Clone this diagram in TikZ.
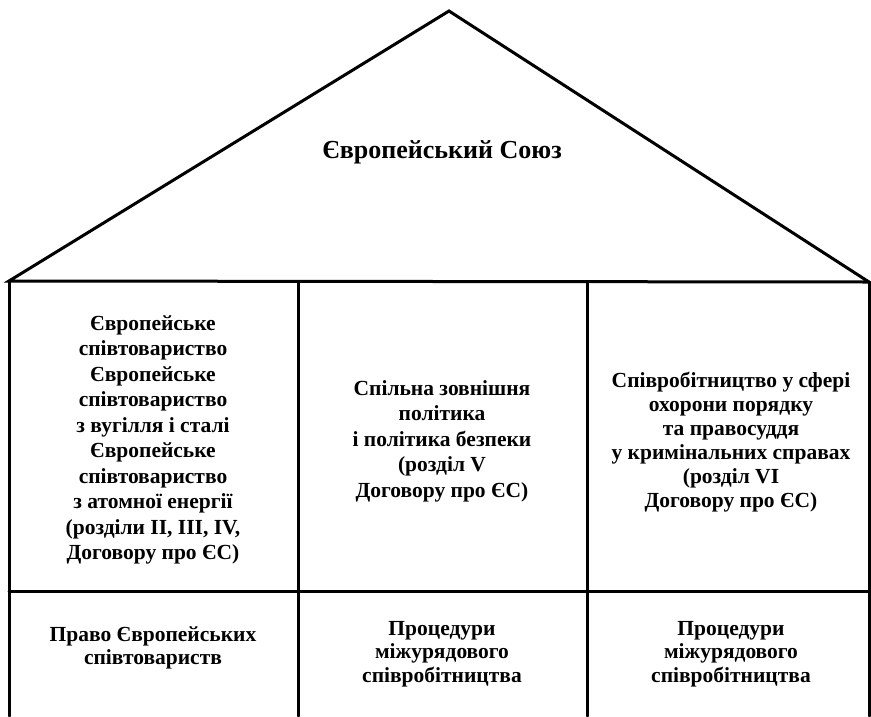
\documentclass[tikz,border=0pt]{standalone}
\usepackage{fontspec}
\setmainfont{Liberation Serif}[BoldFont={Liberation Serif Bold}]
\begin{document}
\begin{tikzpicture}[x=1pt,y=-1pt,
  frame/.style={line width=3pt,line cap=round,line join=miter},
  cell/.style={align=center,font=\bfseries\fontsize{21.5}{25.5}\selectfont,inner sep=0pt},
  title/.style={align=center,font=\bfseries\fontsize{26}{30}\selectfont,inner sep=0pt}]
\useasboundingbox (0,0) rectangle (871,716);
\coordinate (apex) at (449,11);
\coordinate (bl) at (9,281);
\coordinate (br) at (869,282);
\coordinate (m1t) at (298,282);
\coordinate (m2t) at (587,282);
\coordinate (m1b) at (298,716);
\coordinate (m2b) at (587,716);
\coordinate (lb) at (9,716);
\coordinate (rb) at (869,716);
\coordinate (dl) at (9,591);
\coordinate (dr) at (869,591);
\draw[frame] (bl) -- (apex) -- (br) -- cycle;
\draw[frame] (bl) -- (lb);
\draw[frame] (br) -- (rb);
\draw[frame] (m1t) -- (m1b);
\draw[frame] (m2t) -- (m2b);
\draw[frame] (dl) -- (dr);
\node[title] (eu) at (442,152) {Європейський Союз};
\node[cell] (c1) at (153,440) {Європейське\\співтовариство\\Європейське\\співтовариство\\з вугілля і сталі\\Європейське\\співтовариство\\з атомної енергії\\(розділи II, III, IV,\\Договору про ЄС)};
\node[cell] (c2) at (442,441) {Спільна зовнішня\\політика\\і політика безпеки\\(розділ V\\Договору про ЄС)};
\node[cell,font=\bfseries\fontsize{21.5}{24}\selectfont] (c3) at (731,442) {Співробітництво у сфері\\охорони порядку\\та правосуддя\\у кримінальних справах\\(розділ VI\\Договору про ЄС)};
\node[cell,font=\bfseries\fontsize{21.5}{23.5}\selectfont] (d1) at (153,648) {Право Європейських\\співтовариств};
\node[cell,font=\bfseries\fontsize{21.5}{23.5}\selectfont] (d2) at (442,654) {Процедури\\міжурядового\\співробітництва};
\node[cell,font=\bfseries\fontsize{21.5}{23.5}\selectfont] (d3) at (731,654) {Процедури\\міжурядового\\співробітництва};
\end{tikzpicture}
\end{document}
